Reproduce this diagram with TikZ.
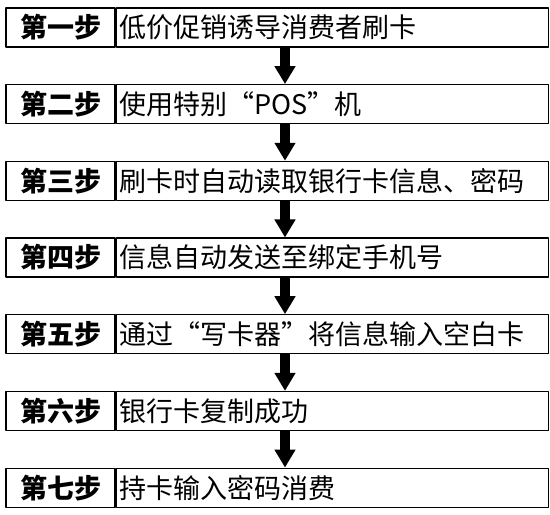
\documentclass[tikz,border=0pt]{standalone}
\usepackage{fontspec}
\setmainfont{Noto Sans CJK SC}
\usetikzlibrary{arrows.meta}
\begin{document}
\begin{tikzpicture}[x=1pt, y=-1pt, line join=round,
            font=\fontsize{27}{27}\selectfont,
            >={Triangle[width=20pt,length=18pt]}]
            \def\pitch{76.7}
            \tikzset{
              stepbox/.style={draw, line width=1.3pt, minimum height=39pt, inner sep=0pt},
              labbox/.style={stepbox, minimum width=109pt, font=\fontsize{27}{27}\selectfont\bfseries},
              txtbox/.style={stepbox, anchor=west, text width=426pt, inner xsep=3pt, align=left},
              bigarrow/.style={->, line width=10pt, line cap=butt}
            }
            \useasboundingbox (0,0) rectangle (550,515);
            \coordinate (arr) at (285,0);
            \foreach \i/\lab/\txt in {1/第一步/低价促销诱导消费者刷卡,
                2/第二步/使用特别“POS”机,
                3/第三步/刷卡时自动读取银行卡信息、密码,
                4/第四步/信息自动发送至绑定手机号,
                5/第五步/通过“写卡器”将信息输入空白卡,
                6/第六步/银行卡复制成功,
                7/第七步/持卡输入密码消费}{
              \node[labbox] (l\i) at (60.5,{27.5+(\i-1)*\pitch}) {\lab};
              \node[txtbox] (t\i) at (l\i.east) {\txt};
            }
            \foreach \i [evaluate=\i as \j using int(\i+1)] in {1,...,6}
              \draw[bigarrow] (t\i.south -| arr) -- (t\j.north -| arr);
        \end{tikzpicture}
\end{document}
